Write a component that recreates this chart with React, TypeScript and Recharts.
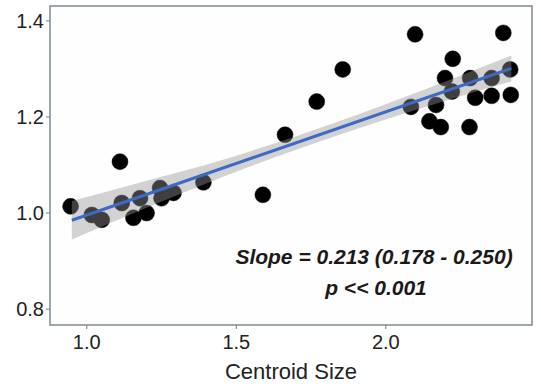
import {
  Area,
  CartesianGrid,
  ComposedChart,
  Label,
  Line,
  ReferenceArea,
  Scatter,
  XAxis,
  YAxis,
} from "recharts";

// Centroid size (x) vs. shape ratio (y)
const pointX = [
  0.946, 1.111, 1.017, 1.05, 1.117, 1.156, 1.178, 1.2, 1.245, 1.25, 1.29,
  1.39, 1.589, 1.663, 1.769, 1.856, 2.098, 2.393, 2.224, 2.198, 2.221, 2.282,
  2.299, 2.354, 2.354, 2.416, 2.418, 2.084, 2.168, 2.146, 2.184, 2.28,
];
const pointY = [
  1.014, 1.107, 0.996, 0.986, 1.021, 0.99, 1.031, 1.0, 1.052, 1.031, 1.042,
  1.064, 1.038, 1.163, 1.232, 1.299, 1.372, 1.375, 1.321, 1.281, 1.253, 1.281,
  1.24, 1.281, 1.244, 1.299, 1.246, 1.221, 1.225, 1.191, 1.179, 1.179,
];

// fitted line and its confidence band
const fitX = [0.95, 2.42];
const fitY = [0.985, 1.301];
const bandX = [0.95, 1.2, 1.45, 1.7, 1.95, 2.2, 2.42];
const bandLow = [0.945, 1.011, 1.074, 1.132, 1.185, 1.234, 1.274];
const bandHigh = [1.025, 1.067, 1.11, 1.16, 1.215, 1.274, 1.328];

const xTicks = [1.0, 1.5, 2.0];
const yTicks = [0.8, 1.0, 1.2, 1.4];
const xDomain = [0.877, 2.489];
const yDomain = [0.767, 1.431];

const slopeText = "Slope = 0.213 (0.178 - 0.250)";
const pText = "p << 0.001";

const points = pointX.map((x, i) => ({ x, y: pointY[i] }));
const fitLine = fitX.map((x, i) => ({ x, y: fitY[i] }));
const band = bandX.map((x, i) => ({ x, band: [bandLow[i], bandHigh[i]] }));

const font = "'Liberation Sans', Arial, sans-serif";
const tickStyle = { fontSize: 20, fill: "#222", fontFamily: font };

const Dot = (props: any) => (
  <circle cx={props.cx} cy={props.cy} r={8} fill="#000" stroke="#111" strokeWidth={0.5} />
);

const W = 541;
const H = 387;

export default function App() {
  return (
    <div style={{ position: "absolute", left: 0, top: 0, width: W, height: H, background: "#fff" }}>
      {/* base layer: panel, axes and points */}
      <div style={{ position: "absolute", left: 0, top: 0 }}>
        <ComposedChart
          width={W}
          height={H}
          margin={{ top: 6, right: 9, left: 0, bottom: 0 }}
        >
          <ReferenceArea
            x1={xDomain[0]}
            x2={xDomain[1]}
            y1={yDomain[0]}
            y2={yDomain[1]}
            fill="#fefefe"
            fillOpacity={1}
            stroke="none"
          />
          <CartesianGrid stroke="#f1f3f6" strokeWidth={1} />
          <XAxis
            type="number"
            dataKey="x"
            domain={xDomain}
            ticks={xTicks}
            allowDataOverflow
            tickFormatter={(v: number) => v.toFixed(1)}
            tick={tickStyle}
            tickSize={4}
            tickMargin={6}
            tickLine={{ stroke: "#6e7a80" }}
            axisLine={false}
            height={62}
          >
            <Label
              value="Centroid Size"
              position="insideBottom"
              offset={8}
              style={{ fontSize: 22, fill: "#222", fontFamily: font }}
            />
          </XAxis>
          <YAxis
            type="number"
            domain={yDomain}
            ticks={yTicks}
            allowDataOverflow
            tickFormatter={(v: number) => v.toFixed(1)}
            tick={tickStyle}
            tickSize={4}
            tickMargin={2}
            tickLine={{ stroke: "#6e7a80" }}
            axisLine={false}
            width={50}
          />
          <Scatter
            data={points}
            dataKey="y"
            shape={Dot}
            isAnimationActive={false}
          />
        </ComposedChart>
      </div>
      {/* top layer: band drawn over the points, fit line, frame */}
      <div style={{ position: "absolute", left: 0, top: 0, pointerEvents: "none" }}>
        <ComposedChart
          width={W}
          height={H}
          margin={{ top: 6, right: 9, left: 50, bottom: 62 }}
        >
          <XAxis type="number" dataKey="x" domain={xDomain} allowDataOverflow hide />
          <YAxis type="number" domain={yDomain} allowDataOverflow hide />
          <Area
            data={band}
            dataKey="band"
            type="monotone"
            fill="#969696"
            fillOpacity={0.42}
            stroke="none"
            isAnimationActive={false}
          />
          <Line
            data={fitLine}
            dataKey="y"
            type="linear"
            stroke="#3d6ac4"
            strokeWidth={3}
            dot={false}
            activeDot={false}
            isAnimationActive={false}
          />
          <ReferenceArea
            x1={xDomain[0]}
            x2={xDomain[1]}
            y1={yDomain[0]}
            y2={yDomain[1]}
            fill="none"
            stroke="#7f8b91"
            strokeWidth={1.5}
          />
        </ComposedChart>
      </div>
      <svg
        width={W}
        height={H}
        style={{ position: "absolute", left: 0, top: 0, pointerEvents: "none" }}
      >
        <g
          style={{
            fontFamily: font,
            fontSize: 21,
            fontWeight: "bold",
            fontStyle: "italic",
            fill: "#1a1a1a",
          }}
        >
          <text x={374} y={264} textAnchor="middle">
            {slopeText}
          </text>
          <text x={376} y={295} textAnchor="middle">
            {pText}
          </text>
        </g>
      </svg>
    </div>
  );
}
